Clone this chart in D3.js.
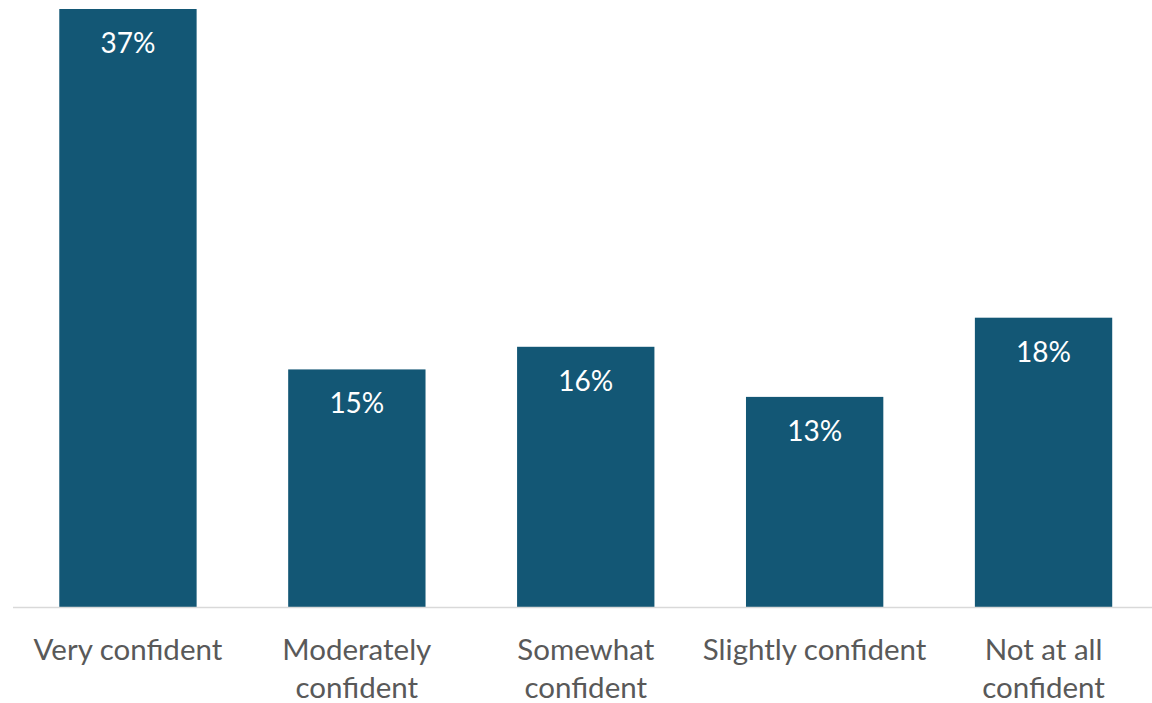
<!DOCTYPE html>
<html><head><meta charset="utf-8">
<script src="https://cdn.jsdelivr.net/npm/d3@7"></script>
<style>html,body{margin:0;padding:0;background:#fff;}svg{display:block;}</style>
</head><body>
<svg id="chart" width="1152" height="703"></svg>
<script>
const categories = ["Very confident", "Moderately\nconfident", "Somewhat\nconfident", "Slightly confident", "Not at all\nconfident"];
const values = [37.0, 14.7, 16.1, 13.0, 17.9];
const valueLabels = ["37%", "15%", "16%", "13%", "18%"];

const W = 1152, H = 703;
const svg = d3.select("#chart");
const baseY = 607, topY = 9;
const x = d3.scaleBand().domain(categories).range([13.5, 1158]).paddingInner(0.4).paddingOuter(0.2);
const y = d3.scaleLinear().domain([0, 37.0]).range([baseY, topY]);
const font = "Lato, 'Open Sans', sans-serif";

svg.selectAll("rect.bar").data(values).join("rect")
  .attr("class", "bar")
  .attr("x", (d, i) => x(categories[i]))
  .attr("y", d => y(d))
  .attr("width", x.bandwidth())
  .attr("height", d => y(0) - y(d))
  .attr("fill", "#135775");

svg.append("line").attr("x1", 13).attr("x2", 1152).attr("y1", baseY + 0.5).attr("y2", baseY + 0.5)
  .attr("stroke", "#d9d9d9").attr("stroke-width", 1.5);

svg.selectAll("text.val").data(values).join("text")
  .attr("class", "val")
  .attr("x", (d, i) => x(categories[i]) + x.bandwidth() / 2)
  .attr("y", d => y(d) + 44)
  .attr("text-anchor", "middle")
  .attr("font-family", font).attr("font-size", 28)
  .attr("fill", "#ffffff")
  .text((d, i) => valueLabels[i]);

const cat = svg.selectAll("text.cat").data(categories).join("text")
  .attr("class", "cat")
  .attr("text-anchor", "middle")
  .attr("font-family", font).attr("font-size", 29.5)
  .attr("fill", "#595959");
cat.each(function(d) {
  const lines = d.split("\n");
  const cx = x(d) + x.bandwidth() / 2;
  d3.select(this).selectAll("tspan").data(lines).join("tspan")
    .attr("x", cx)
    .attr("y", (l, j) => 660 + j * 38)
    .text(l => l);
});
</script>
</body></html>
